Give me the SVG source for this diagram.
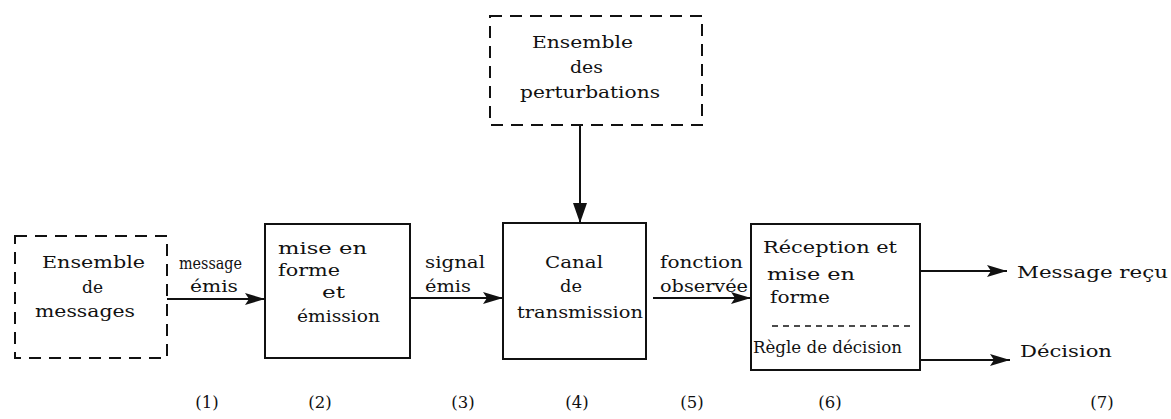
<svg xmlns="http://www.w3.org/2000/svg" width="1171" height="419" viewBox="0 0 1171 419">
<style>
text{font-family:"DejaVu Serif","Liberation Serif",serif;font-size:16.5px;fill:#111}
.box{fill:none;stroke:#111;stroke-width:2}
.dash{fill:none;stroke:#111;stroke-width:2;stroke-dasharray:12 8}
.line{fill:none;stroke:#111;stroke-width:2}
</style>
<defs>
<marker id="ah" markerWidth="20" markerHeight="12" refX="20" refY="6" orient="auto" markerUnits="userSpaceOnUse">
<path d="M0,0 L20,6 L0,12 L4,6 Z" fill="#111"/>
</marker>
<marker id="ahb" markerWidth="20" markerHeight="14" refX="20" refY="7" orient="auto" markerUnits="userSpaceOnUse">
<path d="M0,0 L20,7 L0,14 Z" fill="#111"/>
</marker>
</defs>
<rect width="1171" height="419" fill="#fff"/>
<g id="messages">
<rect class="dash" x="15" y="236" width="152" height="122"/>
<text x="42" y="268" textLength="103" lengthAdjust="spacingAndGlyphs">Ensemble</text>
<text x="82" y="293" textLength="21" lengthAdjust="spacingAndGlyphs">de</text>
<text x="35" y="317" textLength="100" lengthAdjust="spacingAndGlyphs">messages</text>
</g>
<g id="emission">
<rect class="box" x="265" y="224" width="145" height="134"/>
<text x="278" y="254" textLength="89" lengthAdjust="spacingAndGlyphs">mise  en</text>
<text x="278" y="276" textLength="62" lengthAdjust="spacingAndGlyphs">forme</text>
<text x="322" y="298" textLength="23" lengthAdjust="spacingAndGlyphs">et</text>
<text x="297" y="322" textLength="83" lengthAdjust="spacingAndGlyphs">émission</text>
</g>
<g id="perturbations">
<rect class="dash" x="490" y="16" width="212" height="109"/>
<text x="532" y="48" textLength="101" lengthAdjust="spacingAndGlyphs">Ensemble</text>
<text x="570" y="73" textLength="33" lengthAdjust="spacingAndGlyphs">des</text>
<text x="520" y="98" textLength="140" lengthAdjust="spacingAndGlyphs">perturbations</text>
</g>
<g id="canal">
<rect class="box" x="503" y="223" width="143" height="136"/>
<text x="545" y="268" textLength="58" lengthAdjust="spacingAndGlyphs">Canal</text>
<text x="560" y="292" textLength="22" lengthAdjust="spacingAndGlyphs">de</text>
<text x="517" y="318" textLength="126" lengthAdjust="spacingAndGlyphs">transmission</text>
</g>
<g id="reception">
<rect class="box" x="751" y="224" width="169" height="146"/>
<text x="763" y="253" textLength="134" lengthAdjust="spacingAndGlyphs">Réception et</text>
<text x="767" y="280" textLength="88" lengthAdjust="spacingAndGlyphs">mise en</text>
<text x="770" y="303" textLength="60" lengthAdjust="spacingAndGlyphs">forme</text>
<line x1="772" y1="326" x2="910" y2="326" stroke="#111" stroke-width="1.5" stroke-dasharray="6 5"/>
<text x="753" y="353" textLength="149" lengthAdjust="spacingAndGlyphs">Règle de décision</text>
</g>
<g id="connectors">
<line class="line" x1="167" y1="299" x2="265" y2="299" marker-end="url(#ah)"/>
<line class="line" x1="410" y1="298" x2="503" y2="298" marker-end="url(#ah)"/>
<line class="line" x1="653" y1="298" x2="751" y2="298" marker-end="url(#ah)"/>
<line class="line" x1="580" y1="125" x2="580" y2="223" marker-end="url(#ahb)"/>
<line class="line" x1="920" y1="271" x2="1007" y2="271" marker-end="url(#ah)"/>
<line class="line" x1="920" y1="360" x2="1010" y2="360" marker-end="url(#ah)"/>
</g>
<g id="labels">
<text x="179" y="269" textLength="63" lengthAdjust="spacingAndGlyphs">message</text>
<text x="190" y="292" textLength="48" lengthAdjust="spacingAndGlyphs">émis</text>
<text x="425" y="268" textLength="60" lengthAdjust="spacingAndGlyphs">signal</text>
<text x="425" y="292" textLength="46" lengthAdjust="spacingAndGlyphs">émis</text>
<text x="660" y="268" textLength="83" lengthAdjust="spacingAndGlyphs">fonction</text>
<text x="660" y="292" textLength="88" lengthAdjust="spacingAndGlyphs">observée</text>
<text x="1017" y="278" textLength="151" lengthAdjust="spacingAndGlyphs">Message reçu</text>
<text x="1020" y="357" textLength="92" lengthAdjust="spacingAndGlyphs">Décision</text>
</g>
<g id="numbers" text-anchor="middle">
<text x="207" y="408">(1)</text>
<text x="320" y="408">(2)</text>
<text x="463" y="408">(3)</text>
<text x="577" y="408">(4)</text>
<text x="692" y="408">(5)</text>
<text x="830" y="408">(6)</text>
<text x="1102" y="408">(7)</text>
</g>
</svg>
